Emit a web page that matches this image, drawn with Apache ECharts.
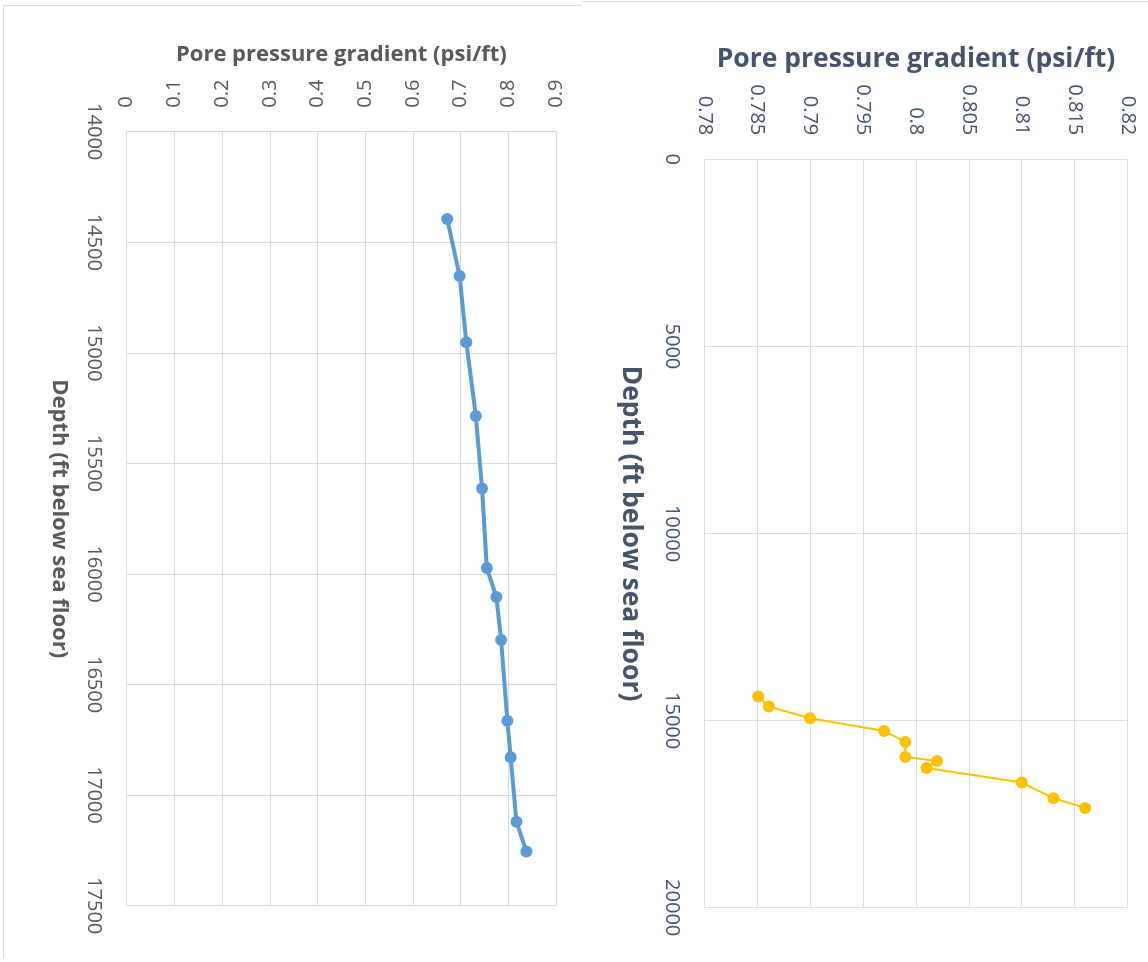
<!DOCTYPE html>
<html>
<head>
<meta charset="utf-8">
<script src="https://cdn.jsdelivr.net/npm/echarts@6/dist/echarts.min.js"></script>
<style>
  html, body { margin: 0; padding: 0; background: #ffffff; }
  #chart { width: 1148px; height: 962px; }
</style>
</head>
<body>
<div id="chart"></div>
<script>
// Well A: depth (ft below sea floor) and pore pressure gradient (psi/ft)
const wellADepth = [14395, 14653, 14952, 15286, 15613, 15973, 16104, 16299, 16664, 16829, 17120, 17255];
const wellAGradient = [0.672, 0.698, 0.712, 0.732, 0.745, 0.755, 0.775, 0.785, 0.798, 0.805, 0.817, 0.838];

// Well B: depth (ft below sea floor) and pore pressure gradient (psi/ft)
const wellBDepth = [14358, 14626, 14936, 15275, 15569, 15970, 16077, 16264, 16657, 17074, 17333];
const wellBGradient = [0.7851, 0.7861, 0.7900, 0.7970, 0.7990, 0.7990, 0.8020, 0.8010, 0.8100, 0.8130, 0.8160];

// Axis ranges and tick steps
const wellAGradientTicks = { min: 0, max: 0.9, step: 0.1 };
const wellADepthTicks = { min: 14000, max: 17500, step: 500 };
const wellBGradientTicks = { min: 0.78, max: 0.82, step: 0.005 };
const wellBDepthTicks = { min: 0, max: 20000, step: 5000 };

const gradientTitle = 'Pore pressure gradient (psi/ft)';
const depthTitle = 'Depth (ft below sea floor)';

const FONT = '"Open Sans", "Liberation Sans", sans-serif';

function pairs(xs, ys) {
  return xs.map((x, i) => [x, ys[i]]);
}

function gradientAxis(gridIndex, ticks, color, gridColor, titleSize, nameGap) {
  return {
    gridIndex: gridIndex,
    type: 'value',
    position: 'top',
    min: ticks.min,
    max: ticks.max,
    interval: ticks.step,
    name: gradientTitle,
    nameLocation: 'middle',
    nameGap: nameGap,
    nameTextStyle: { fontFamily: FONT, fontSize: titleSize, fontWeight: 'bold', color: color },
    axisLine: { show: false },
    axisTick: { show: false },
    axisLabel: { rotate: -90, margin: 24, fontFamily: FONT, fontSize: 20, color: color, hideOverlap: false },
    splitLine: { show: true, showMinLine: true, showMaxLine: true, lineStyle: { color: gridColor, width: 1 } }
  };
}

function depthAxis(gridIndex, ticks, color, gridColor, titleSize, nameGap) {
  return {
    gridIndex: gridIndex,
    type: 'value',
    inverse: true,
    min: ticks.min,
    max: ticks.max,
    interval: ticks.step,
    name: depthTitle,
    nameLocation: 'middle',
    nameRotate: -90,
    nameGap: nameGap,
    nameTextStyle: { fontFamily: FONT, fontSize: titleSize, fontWeight: 'bold', color: color },
    axisLine: { show: false },
    axisTick: { show: false },
    axisLabel: {
      rotate: -90, margin: 23, fontFamily: FONT, fontSize: 20, color: color, hideOverlap: false,
      formatter: (v) => String(Math.round(v))
    },
    splitLine: { show: true, showMinLine: true, showMaxLine: true, lineStyle: { color: gridColor, width: 1 } }
  };
}

const chart = echarts.init(document.getElementById('chart'), null, { renderer: 'canvas' });

chart.setOption({
  animation: false,
  backgroundColor: '#ffffff',
  grid: [
    { left: 126.7, top: 131.7, width: 429.3, height: 774, containLabel: false, outerBoundsMode: 'none' },
    { left: 704.3, top: 159.3, width: 423.2, height: 748.4, containLabel: false, outerBoundsMode: 'none' }
  ],
  xAxis: [
    gradientAxis(0, wellAGradientTicks, '#595959', '#D9D9D9', 22, 66),
    gradientAxis(1, wellBGradientTicks, '#44546A', '#D9DEE6', 26.5, 86)
  ],
  yAxis: [
    depthAxis(0, wellADepthTicks, '#595959', '#D9D9D9', 22, 56),
    depthAxis(1, wellBDepthTicks, '#44546A', '#D9DEE6', 26.5, 60)
  ],
  series: [
    {
      name: 'Well A',
      type: 'line',
      xAxisIndex: 0,
      yAxisIndex: 0,
      data: pairs(wellAGradient, wellADepth),
      symbol: 'circle',
      symbolSize: 12,
      lineStyle: { color: '#5B9BD5', width: 4 },
      itemStyle: { color: '#5B9BD5' }
    },
    {
      name: 'Well B',
      type: 'line',
      xAxisIndex: 1,
      yAxisIndex: 1,
      data: pairs(wellBGradient, wellBDepth),
      symbol: 'circle',
      symbolSize: 12,
      lineStyle: { color: '#FFC000', width: 2 },
      itemStyle: { color: '#FFC000' }
    }
  ],
  graphic: [
    // frame of the left panel
    { type: 'line', silent: true, shape: { x1: 3.5, y1: 5.5, x2: 3.5, y2: 958 }, style: { stroke: '#D9D9D9', lineWidth: 1 } },
    { type: 'line', silent: true, shape: { x1: 3.5, y1: 5.5, x2: 582, y2: 5.5 }, style: { stroke: '#D9D9D9', lineWidth: 1 } },
    // frame of the right panel
    { type: 'line', silent: true, shape: { x1: 582, y1: 1.5, x2: 1148, y2: 1.5 }, style: { stroke: '#DCE0E6', lineWidth: 1 } }
  ]
});
</script>
</body>
</html>
